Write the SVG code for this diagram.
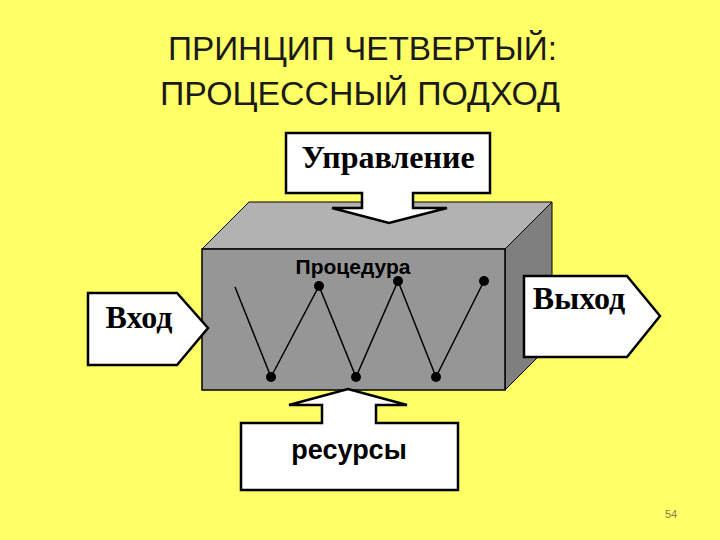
<svg xmlns="http://www.w3.org/2000/svg" width="720" height="540" viewBox="0 0 720 540">
<style>
.title{font-family:"Liberation Sans","DejaVu Sans",sans-serif;font-size:33px;fill:#1a1a1a}
.lbl{font-family:"Liberation Serif","DejaVu Serif",serif;font-weight:bold;fill:#000}
.sans{font-family:"Liberation Sans","DejaVu Sans",sans-serif;font-weight:bold;fill:#000}
.box{fill:#fff;stroke:#000;stroke-width:2.5;stroke-linejoin:miter}
.edge{stroke:#000;stroke-width:1.5}
.dot{fill:#000}
</style>
<rect width="720" height="540" fill="#FFFF66"/>
<text class="title" x="168" y="60" textLength="389" lengthAdjust="spacingAndGlyphs">ПРИНЦИП ЧЕТВЕРТЫЙ:</text>
<text class="title" x="160" y="105" textLength="400" lengthAdjust="spacingAndGlyphs">ПРОЦЕССНЫЙ ПОДХОД</text>
<g id="procedure">
<polygon points="202,249 249,202 552,202 505,249" fill="#B2B2B2" stroke="#000" stroke-width="1"/>
<polygon points="505,249 552,202 552,343 505,390" fill="#7F7F7F" stroke="#000" stroke-width="1"/>
<rect x="202" y="249" width="303" height="141" fill="#969696" stroke="#000" stroke-width="1.5"/>
<text class="sans" x="353" y="274" font-size="21" text-anchor="middle">Процедура</text>
</g>
<g id="connectors">
<polyline points="235,287 271,377 319,286 356,377 398,281 436,377 484,281" fill="none" class="edge"/>
<circle class="dot" cx="271" cy="377" r="5"/>
<circle class="dot" cx="319" cy="286" r="5"/>
<circle class="dot" cx="356" cy="377" r="5"/>
<circle class="dot" cx="398" cy="281" r="5"/>
<circle class="dot" cx="436" cy="377" r="5"/>
<circle class="dot" cx="484" cy="281" r="5"/>
</g>
<g id="control">
<polygon class="box" points="286,133 490,133 490,193 413,193 413,208 447,208 389,223 332,208 362,208 362,193 286,193"/>
<text class="lbl" x="388" y="168" font-size="32" text-anchor="middle">Управление</text>
</g>
<g id="input">
<polygon class="box" points="88,293 177,293 208,328 177,365 88,365"/>
<text class="lbl" x="139" y="328" font-size="32" text-anchor="middle">Вход</text>
</g>
<g id="output">
<polygon class="box" points="524,276 627,276 660,316 627,357 524,357"/>
<text class="lbl" x="579" y="309" font-size="32" text-anchor="middle">Выход</text>
</g>
<g id="resources">
<polygon class="box" points="241,423 322,423 322,405 289,405 348,389 407,405 376,405 376,423 458,423 458,490 241,490"/>
<text class="sans" x="349" y="459" font-size="27" text-anchor="middle">ресурсы</text>
</g>
<text x="671" y="518" font-family="Liberation Sans, sans-serif" font-size="11" fill="#7f7f50" text-anchor="middle">54</text>
</svg>
